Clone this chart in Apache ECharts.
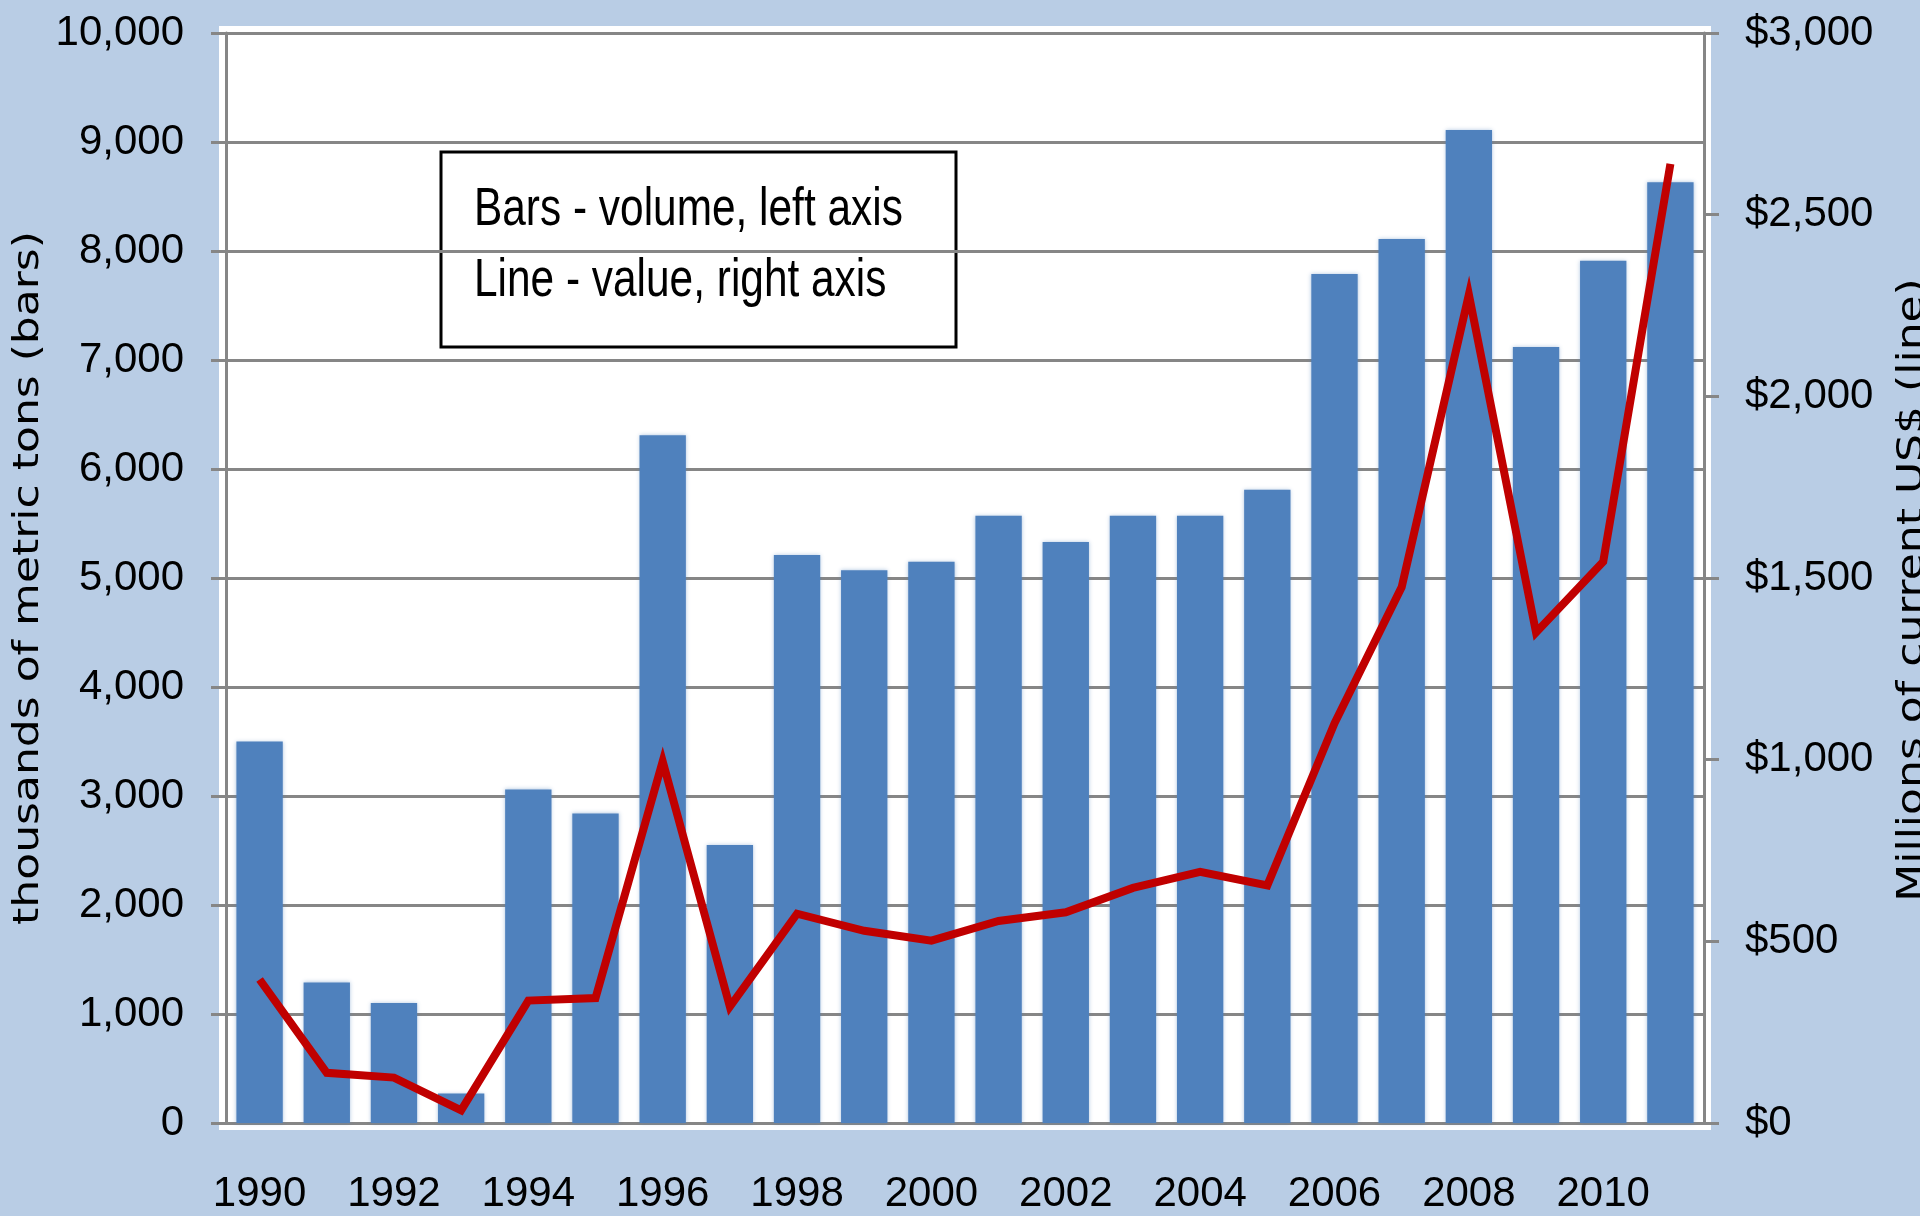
<!DOCTYPE html>
<html>
<head>
<meta charset="utf-8">
<script src="https://cdn.jsdelivr.net/npm/echarts@6/dist/echarts.min.js"></script>
<style>
  html, body { margin: 0; padding: 0; background: #B9CDE5; }
  .main { width: 1920px; height: 1216px; }
</style>
</head>
<body>
<div class="main"></div>
<script>
var years = ['1990', '1991', '1992', '1993', '1994', '1995', '1996', '1997', '1998', '1999', '2000', '2001', '2002', '2003', '2004', '2005', '2006', '2007', '2008', '2009', '2010', '2011']
// thousands of metric tons (bars, left axis)
var volume = [3500, 1290, 1100, 270, 3060, 2840, 6310, 2550, 5210, 5070, 5150, 5570, 5330, 5570, 5570, 5810, 7790, 8110, 9110, 7120, 7910, 8630]
// millions of current US$ (line, right axis)
var value = [395, 138, 125, 35, 337, 344, 995, 320, 576, 529, 502, 556, 580, 647, 691, 654, 1100, 1475, 2280, 1350, 1545, 2640]

var leftTitle = 'thousands of metric tons (bars)'
var rightTitle = 'Millions of current US$ (line)'
var noteLines = ['Bars - volume, left axis', 'Line - value, right axis']

var labelFont = '"Liberation Sans", Arial, sans-serif'
var gray = '#868686'

var MyChart = echarts.init(document.querySelector('.main'))

var option = {
  backgroundColor: '#B9CDE5',
  animation: false,
  grid: {
    left: 226,
    right: 216,
    top: 33,
    bottom: 93,
    show: true,
    backgroundColor: '#fff',
    borderColor: '#fff',
    borderWidth: 14
  },
  xAxis: {
    type: 'category',
    data: years,
    axisLine: { lineStyle: { color: gray, width: 3 } },
    axisTick: { show: false },
    axisLabel: {
      interval: 1, // every other year
      margin: 50,
      color: '#000',
      fontFamily: labelFont,
      fontSize: 42
    }
  },
  yAxis: [
    {
      type: 'value',
      position: 'left',
      min: 0,
      max: 10000,
      interval: 1000,
      axisLine: { show: true, lineStyle: { color: gray, width: 3 } },
      axisTick: { show: true, length: 15, lineStyle: { color: gray, width: 3 } },
      splitLine: { lineStyle: { color: gray, width: 3 } },
      axisLabel: {
        margin: 42,
        color: '#000',
        fontFamily: labelFont,
        fontSize: 42,
        formatter: function (v) { return v.toLocaleString('en-US') }
      }
    },
    {
      type: 'value',
      position: 'right',
      min: 0,
      max: 3000,
      interval: 500,
      axisLine: { show: true, lineStyle: { color: gray, width: 3 } },
      axisTick: { show: true, length: 15, lineStyle: { color: gray, width: 3 } },
      splitLine: { show: false },
      axisLabel: {
        margin: 41,
        color: '#000',
        fontFamily: labelFont,
        fontSize: 42,
        formatter: function (v) { return '$' + v.toLocaleString('en-US') }
      }
    }
  ],
  graphic: [
    // axis titles, squeezed a bit like the original picture
    {
      type: 'text',
      x: 29, y: 578,
      rotation: Math.PI / 2,
      scaleY: 0.82,
      style: {
        text: leftTitle,
        font: '44px "DejaVu Sans", sans-serif',
        fill: '#000',
        align: 'center',
        verticalAlign: 'middle'
      }
    },
    {
      type: 'text',
      x: 1913, y: 590,
      rotation: Math.PI / 2,
      scaleY: 0.82,
      style: {
        text: rightTitle,
        font: '44px "DejaVu Sans", sans-serif',
        fill: '#000',
        align: 'center',
        verticalAlign: 'middle'
      }
    },
    // note box
    {
      type: 'group',
      x: 441, y: 152,
      z: 100,
      children: [
        {
          type: 'rect',
          shape: { x: 0, y: 0, width: 515, height: 195 },
          style: { fill: '#fff', stroke: '#000', lineWidth: 3 }
        },
        {
          type: 'text',
          x: 33, y: 58,
          scaleX: 0.8,
          style: { text: noteLines[0], font: '53px ' + labelFont, fill: '#000', verticalAlign: 'middle' }
        },
        {
          type: 'text',
          x: 33, y: 129,
          scaleX: 0.8,
          style: { text: noteLines[1], font: '53px ' + labelFont, fill: '#000', verticalAlign: 'middle' }
        }
      ]
    }
  ],
  series: [
    {
      name: 'volume',
      type: 'bar',
      yAxisIndex: 0,
      barCategoryGap: '31%',
      itemStyle: {
        color: '#4F81BD',
        shadowColor: 'rgba(79,129,189,0.45)',
        shadowBlur: 4
      },
      data: volume
    },
    {
      name: 'value',
      type: 'line',
      yAxisIndex: 1,
      symbol: 'none',
      z: 5,
      lineStyle: { color: '#C00000', width: 8, join: 'miter' },
      data: value
    }
  ]
}
MyChart.setOption(option)
</script>
</body>
</html>
